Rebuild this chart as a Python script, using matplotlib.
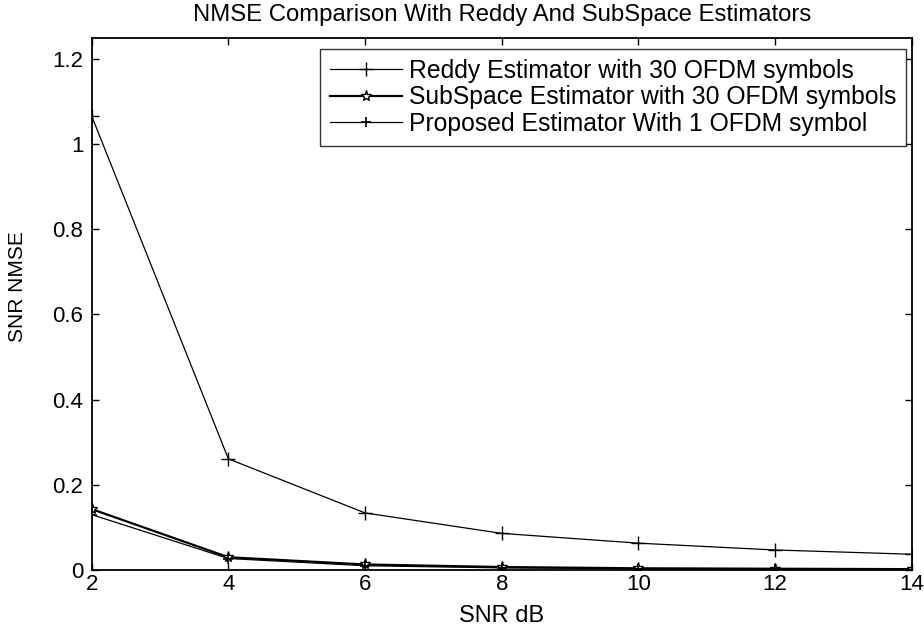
import matplotlib
matplotlib.use("Agg")
import matplotlib.pyplot as plt

plt.rcParams['font.family'] = ['Liberation Sans', 'DejaVu Sans']

snr_db = [2, 4, 6, 8, 10, 12, 14]
reddy = [1.066, 0.261, 0.134, 0.086, 0.063, 0.047, 0.037]
subspace = [0.143, 0.030, 0.013, 0.007, 0.004, 0.003, 0.002]
proposed = [0.130, 0.027, 0.010, 0.005, 0.003, 0.002, 0.001]

labels = ["Reddy Estimator with 30 OFDM symbols",
          "SubSpace Estimator with 30 OFDM symbols",
          "Proposed Estimator With 1 OFDM symbol"]
xticks = [2, 4, 6, 8, 10, 12, 14]
yticks = [0, 0.2, 0.4, 0.6, 0.8, 1, 1.2]
yticklabels = ["0", "0.2", "0.4", "0.6", "0.8", "1", "1.2"]

W, H = 924, 633
fig = plt.figure(figsize=(W / 100, H / 100), dpi=100)
ax = fig.add_axes([91.7 / W, 1 - 570 / H, 820 / W, (570 - 37.7) / H])

ax.plot(snr_db, reddy, color='black', lw=0.9, marker='+', ms=10, mew=1.0, label=labels[0])
ax.plot(snr_db, subspace, color='black', lw=1.6, marker='*', ms=8, mew=1.0,
        mfc='white', mec='black', label=labels[1])
ax.plot(snr_db, proposed, color='black', lw=0.9, marker='+', ms=7, mew=1.2, label=labels[2])

ax.set_xlim(2, 14)
ax.set_ylim(0, 1.25)
ax.set_xticks(xticks)
ax.set_xticklabels([str(t) for t in xticks])
ax.set_yticks(yticks)
ax.set_yticklabels(yticklabels)
ax.tick_params(direction='in', length=5, width=1.0, labelsize=16,
               top=True, right=True)
ax.tick_params(axis='y', pad=6)
ax.tick_params(axis='x', pad=3)
for s in ax.spines.values():
    s.set_linewidth(1.3)

ax.set_xlabel("SNR dB", fontsize=17)
ax.xaxis.set_label_coords(0.5, (570 - 605) / (570 - 37.7))
ax.set_ylabel("SNR NMSE", fontsize=15)
ax.yaxis.set_label_coords((27 - 91.7) / 820, (570 - 287) / (570 - 37.7))
ax.set_title("NMSE Comparison With Reddy And SubSpace Estimators", fontsize=17.2, pad=12)

leg = ax.legend(loc='upper right', bbox_to_anchor=(906 / W, 1 - 49 / H),
                bbox_transform=fig.transFigure, borderaxespad=0,
                fontsize=17.8, frameon=True, fancybox=False,
                edgecolor='black', handlelength=2.9, handletextpad=0.28,
                borderpad=0.4, labelspacing=0.1)
leg.get_frame().set_linewidth(1.0)

fig.savefig("out.png", dpi=100)
